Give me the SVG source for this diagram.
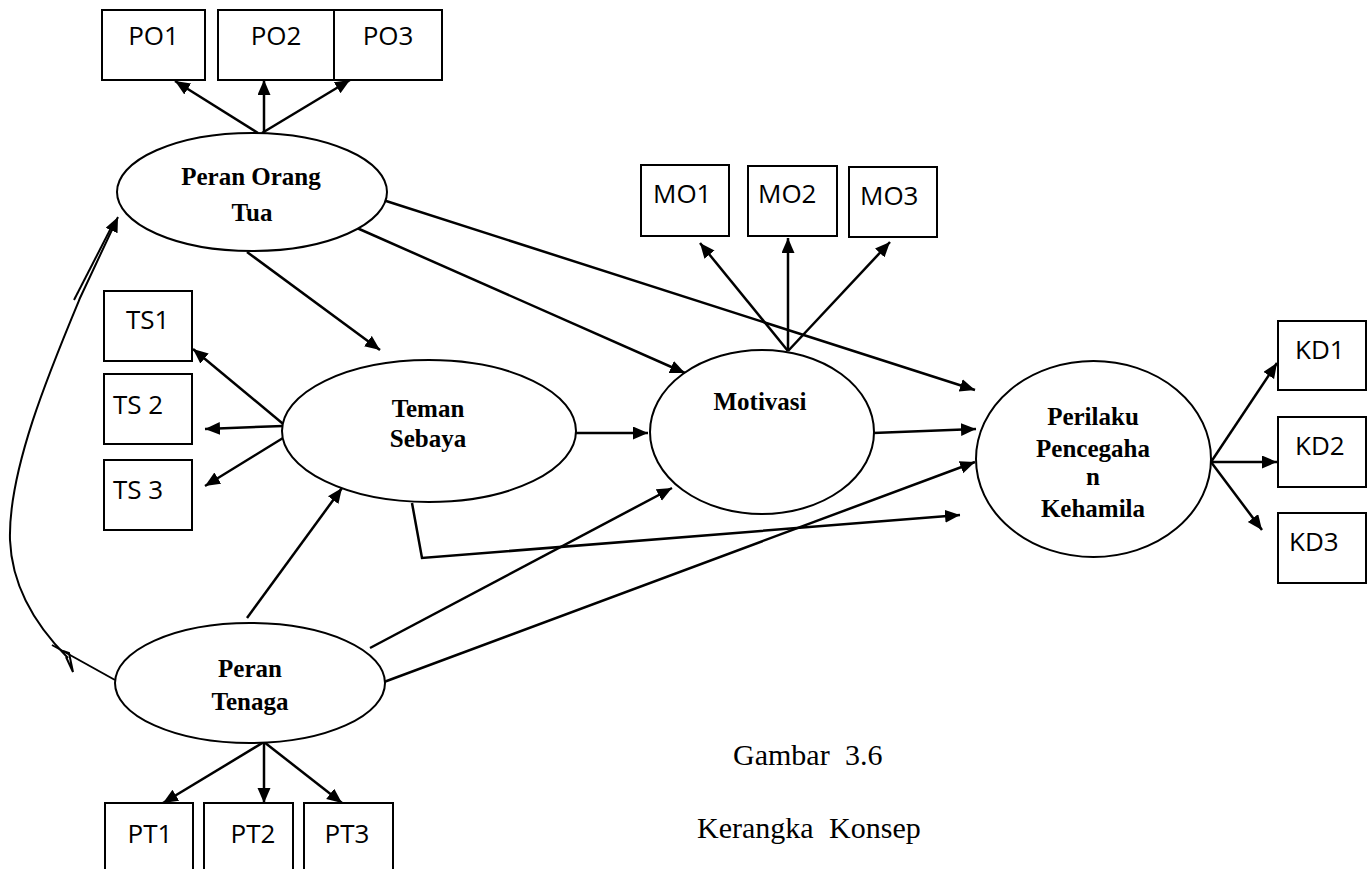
<svg xmlns="http://www.w3.org/2000/svg" width="1371" height="869" viewBox="0 0 1371 869">
  <style>
    .box { fill: #fff; stroke: #000; stroke-width: 2; }
    .ell { fill: #fff; stroke: #000; stroke-width: 2; }
    .ln { fill: none; stroke: #000; stroke-width: 2.5; }
    .thin { fill: none; stroke: #000; stroke-width: 2; }
    .arr { marker-end: url(#ah); }
    .lbl { font-family: "Open Sans", "Liberation Sans", sans-serif; font-size: 26px; fill: #000; }
    .mid { text-anchor: middle; }
    .nd { font-family: "Liberation Serif", serif; font-weight: bold; font-size: 25px; fill: #000; text-anchor: middle; }
    .cap { font-family: "Liberation Serif", serif; font-size: 30px; fill: #000; word-spacing: 8px; }
  </style>
  <defs>
    <marker id="ah" markerUnits="userSpaceOnUse" markerWidth="16" markerHeight="14" refX="15" refY="6.5" orient="auto">
      <path d="M0,0 L15,6.5 L0,13 z" fill="#000"/>
    </marker>
  </defs>

  <rect width="1371" height="869" fill="#fff"/>

  <!-- connectors -->
  <g id="connectors">
    <!-- Peran Orang Tua to its indicators -->
    <line class="ln arr" x1="258" y1="133" x2="175" y2="81"/>
    <line class="ln arr" x1="264" y1="133" x2="264" y2="80"/>
    <line class="ln arr" x1="262" y1="133" x2="350" y2="80"/>
    <!-- Peran Orang Tua paths -->
    <line class="ln arr" x1="247" y1="252" x2="380" y2="350"/>
    <line class="ln arr" x1="357" y1="228" x2="685" y2="373"/>
    <line class="ln arr" x1="383" y1="200" x2="975" y2="390"/>
    <!-- Teman Sebaya to its indicators -->
    <line class="ln arr" x1="288" y1="428" x2="193" y2="349"/>
    <line class="ln arr" x1="283" y1="426" x2="205" y2="429"/>
    <line class="ln arr" x1="283" y1="438" x2="205" y2="486"/>
    <!-- Teman Sebaya paths -->
    <line class="ln arr" x1="576" y1="433" x2="648" y2="433"/>
    <polyline class="ln arr" points="412,503 422,558 960,515"/>
    <!-- Motivasi -->
    <line class="ln arr" x1="788" y1="351" x2="700" y2="243"/>
    <line class="ln arr" x1="788" y1="351" x2="788" y2="238"/>
    <line class="ln arr" x1="788" y1="351" x2="890" y2="242"/>
    <line class="ln arr" x1="873" y1="433" x2="976" y2="429"/>
    <!-- Peran Tenaga paths -->
    <line class="ln arr" x1="247" y1="618" x2="342" y2="488"/>
    <line class="ln arr" x1="370" y1="648" x2="672" y2="488"/>
    <line class="ln arr" x1="384" y1="682" x2="975" y2="462"/>
    <line class="ln arr" x1="264" y1="742" x2="163" y2="803"/>
    <line class="ln arr" x1="264" y1="742" x2="264" y2="803"/>
    <line class="ln arr" x1="264" y1="742" x2="342" y2="803"/>
    <!-- Perilaku to its indicators -->
    <line class="ln arr" x1="1211" y1="462" x2="1277" y2="363"/>
    <line class="ln arr" x1="1211" y1="462" x2="1277" y2="462"/>
    <line class="ln arr" x1="1211" y1="462" x2="1262" y2="530"/>
    <!-- hand-drawn curve from Peran Tenaga back to Peran Orang Tua -->
    <line class="thin" x1="115" y1="680" x2="52" y2="645"/>
    <path class="thin" d="M63 651 L69 653 L73 672 L66 657"/>
    <path class="thin arr" d="M68 658 C40 630 12 590 10 540 C8 470 50 370 80 298 L118 217"/>
    <line class="thin" x1="74" y1="300" x2="111" y2="228"/>
  </g>

  <!-- Peran Orang Tua -->
  <g id="peran-orang-tua">
    <ellipse class="ell" cx="252" cy="192" rx="135" ry="59"/>
    <text class="nd" x="251" y="185">Peran Orang</text>
    <text class="nd" x="252" y="221">Tua</text>
  </g>
  <g id="po1"><rect class="box" x="102" y="10" width="103" height="70"/><text class="lbl mid" x="153.5" y="45">PO1</text></g>
  <g id="po2"><rect class="box" x="218" y="10" width="116" height="70"/><text class="lbl mid" x="276" y="45">PO2</text></g>
  <g id="po3"><rect class="box" x="334" y="10" width="108" height="70"/><text class="lbl mid" x="388" y="45">PO3</text></g>

  <!-- Teman Sebaya -->
  <g id="teman-sebaya">
    <ellipse class="ell" cx="429" cy="431" rx="147" ry="71"/>
    <text class="nd" x="428" y="417">Teman</text>
    <text class="nd" x="428" y="447">Sebaya</text>
  </g>
  <g id="ts1"><rect class="box" x="104" y="291" width="88" height="70"/><text class="lbl" x="126" y="329">TS1</text></g>
  <g id="ts2"><rect class="box" x="104" y="374" width="88" height="70"/><text class="lbl" x="113" y="414">TS 2</text></g>
  <g id="ts3"><rect class="box" x="104" y="460" width="88" height="70"/><text class="lbl" x="113" y="499">TS 3</text></g>

  <!-- Motivasi -->
  <g id="motivasi">
    <ellipse class="ell" cx="762" cy="432" rx="112" ry="82"/>
    <text class="nd" x="760" y="410">Motivasi</text>
  </g>
  <g id="mo1"><rect class="box" x="641" y="165" width="88" height="71"/><text class="lbl" x="653" y="203">MO1</text></g>
  <g id="mo2"><rect class="box" x="748" y="166" width="89" height="70"/><text class="lbl" x="758" y="203">MO2</text></g>
  <g id="mo3"><rect class="box" x="849" y="167" width="88" height="70"/><text class="lbl" x="860" y="205">MO3</text></g>

  <!-- Perilaku Pencegahan Kehamilan -->
  <g id="perilaku">
    <ellipse class="ell" cx="1093.5" cy="459" rx="117.5" ry="98"/>
    <text class="nd" x="1093" y="425">Perilaku</text>
    <text class="nd" x="1093" y="457">Pencegaha</text>
    <text class="nd" x="1093" y="485">n</text>
    <text class="nd" x="1093" y="517">Kehamila</text>
  </g>
  <g id="kd1"><rect class="box" x="1278" y="321" width="88" height="69"/><text class="lbl" x="1295" y="359">KD1</text></g>
  <g id="kd2"><rect class="box" x="1278" y="417" width="88" height="70"/><text class="lbl" x="1295" y="455">KD2</text></g>
  <g id="kd3"><rect class="box" x="1278" y="513" width="88" height="70"/><text class="lbl" x="1289" y="551">KD3</text></g>

  <!-- Peran Tenaga -->
  <g id="peran-tenaga">
    <ellipse class="ell" cx="250" cy="683" rx="135" ry="60"/>
    <text class="nd" x="250" y="677">Peran</text>
    <text class="nd" x="250" y="710">Tenaga</text>
  </g>
  <g id="pt1"><rect class="box" x="105" y="803" width="88" height="72"/><text class="lbl mid" x="150" y="843">PT1</text></g>
  <g id="pt2"><rect class="box" x="204" y="803" width="89" height="72"/><text class="lbl mid" x="253" y="843">PT2</text></g>
  <g id="pt3"><rect class="box" x="304" y="803" width="89" height="72"/><text class="lbl mid" x="347" y="843">PT3</text></g>

  <!-- caption -->
  <g id="caption">
    <text class="cap" x="733" y="765">Gambar 3.6</text>
    <text class="cap" x="697" y="838">Kerangka Konsep</text>
  </g>
</svg>
